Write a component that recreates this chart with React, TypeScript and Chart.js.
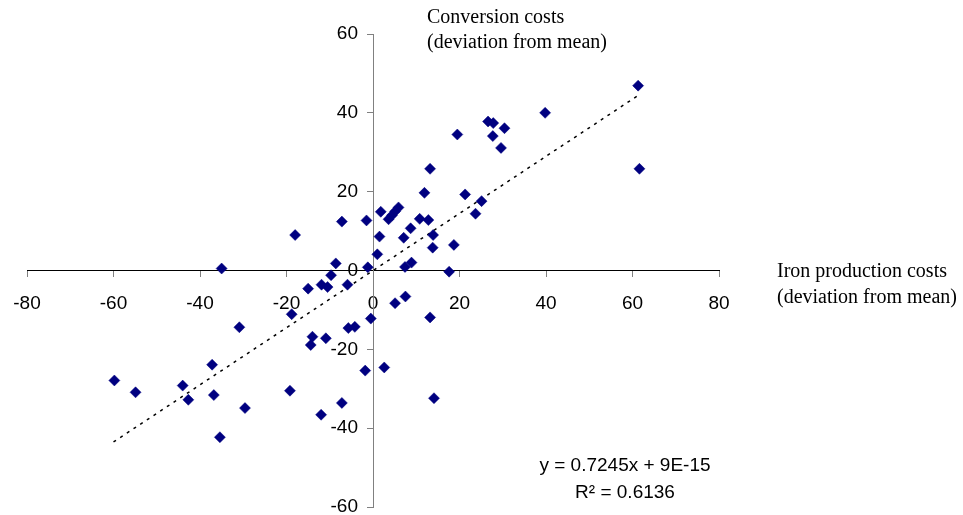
import React, { useEffect, useRef } from 'react';
import { Chart, registerables } from 'chart.js';

Chart.register(...registerables);

// Iron production costs (deviation from mean) – x values
const ironCosts = [
  -59.8, -54.9, -44.0, -42.7, -37.2, -36.8, -35.4, -35.0, -30.9, -29.6,
  -19.2, -18.8, -18.0, -15.0, -14.0, -14.4, -12.0, -11.9, -10.5, -10.9,
  -9.7, -8.6, -7.2, -7.2, -5.9, -5.7, -4.2, -1.5, -1.8, -1.2,
  -0.5, 1.0, 1.5, 1.8, 2.6, 3.6, 4.4, 5.1, 5.9, 5.1,
  7.5, 7.1, 7.4, 8.9, 8.7, 10.8, 12.8, 11.9, 13.2, 13.2,
  13.9, 13.8, 14.1, 17.6, 18.7, 19.5, 21.3, 23.7, 25.1, 26.6,
  27.8, 27.7, 29.6, 30.4, 39.8, 61.3, 61.6,
];

// Conversion costs (deviation from mean) – y values
const conversionCosts = [
  -27.9, -30.9, -29.2, -32.8, -23.9, -31.6, -42.3, 0.5, -14.4, -34.9,
  -30.5, -11.1, 9.0, -4.6, -16.8, -18.9, -36.6, -3.6, -4.2, -17.2,
  -1.2, 1.8, 12.4, -33.6, -3.6, -14.6, -14.3, 12.7, -25.4, 0.8,
  -12.2, 4.1, 8.6, 14.9, -24.6, 13.0, 14.0, 15.0, 16.0, -8.3,
  -6.6, 8.3, 0.9, 2.0, 10.7, 13.1, 12.8, 19.7, 25.8, -11.9,
  9.0, 5.8, -32.4, -0.3, 6.5, 34.5, 19.3, 14.4, 17.6, 37.8,
  37.4, 34.1, 31.1, 36.1, 40.0, 46.9, 25.8,
];

// Linear trend line end points
const trendX = [-60, 61.3];
const trendY = [-43.5, 44.4];

const xTickValues = [-80, -60, -40, -20, 0, 20, 40, 60, 80];
const yTickValues = [-60, -40, -20, 0, 20, 40, 60];

const Y_LABEL_SHIFT = 15;

const annotationPlugin = {
  id: 'textAnnotations',
  afterDraw(chart: any) {
    const ctx = chart.ctx;
    ctx.save();
    ctx.fillStyle = '#000';
    ctx.textBaseline = 'middle';
    ctx.textAlign = 'left';
    ctx.font = '20px "Liberation Serif"';
    ctx.fillText('Conversion costs', 427, 18);
    ctx.fillText('(deviation from mean)', 427, 43);
    ctx.fillText('Iron production costs', 777, 272);
    ctx.fillText('(deviation from mean)', 777, 298);
    ctx.font = '19px "Liberation Sans"';
    ctx.textAlign = 'center';
    ctx.fillText('y = 0.7245x + 9E-15', 625, 466);
    ctx.fillText('R\u00B2 = 0.6136', 625, 493);
    ctx.restore();
  },
};

// Moves the centred y-axis tick labels to the left of the axis line
const yLabelOffsetPlugin = {
  id: 'yLabelOffset',
  beforeDraw(chart: any) {
    const scale = chart.scales.y;
    if (!scale) return;
    const items = scale.getLabelItems(chart.chartArea);
    if (items && !scale.__shifted) {
      items.forEach((it: any) => {
        if (it.options && it.options.translation) it.options.translation[0] -= Y_LABEL_SHIFT;
      });
      scale.__shifted = true;
    }
  },
  afterUpdate(chart: any) {
    if (chart.scales.y) chart.scales.y.__shifted = false;
  },
};

const bgPlugin = {
  id: 'whiteBg',
  beforeDraw(chart: any) {
    const ctx = chart.ctx;
    ctx.save();
    ctx.fillStyle = '#fff';
    ctx.fillRect(0, 0, chart.width, chart.height);
    ctx.restore();
  },
};

export default function App() {
  const ref = useRef<HTMLCanvasElement | null>(null);

  useEffect(() => {
    if (!ref.current) return;
    const points = ironCosts.map((x, i) => ({ x, y: conversionCosts[i] }));
    const trend = trendX.map((x, i) => ({ x, y: trendY[i] }));
    const chart = new Chart(ref.current, {
      type: 'scatter',
      data: {
        datasets: [
          {
            label: 'Costs',
            data: points,
            pointStyle: 'rectRot',
            pointRadius: 5.5,
            pointHoverRadius: 5.5,
            backgroundColor: '#000080',
            borderColor: '#000080',
            borderWidth: 0.5,
            order: 1,
          },
          {
            label: 'Trend',
            data: trend,
            showLine: true,
            pointRadius: 0,
            borderColor: '#000',
            borderWidth: 1.5,
            borderDash: [3, 5],
            order: 2,
          } as any,
        ],
      },
      options: {
        animation: false,
        responsive: false,
        devicePixelRatio: 1,
        layout: { padding: { left: 27, right: 244, top: 34, bottom: 8 } },
        plugins: {
          legend: { display: false },
          tooltip: { enabled: false },
        },
        scales: {
          x: {
            type: 'linear',
            position: { y: 0 } as any,
            min: -80,
            max: 80,
            afterBuildTicks: (scale: any) => {
              scale.ticks = xTickValues.map((v) => ({ value: v }));
            },
            afterFit: (scale: any) => {
              scale.height = 0;
              scale.paddingLeft = 0;
              scale.paddingRight = 0;
              scale.paddingTop = 0;
              scale.paddingBottom = 0;
            },
            ticks: {
              font: { family: '"Liberation Sans"', size: 19 },
              color: '#000',
              padding: 16,
              maxRotation: 0,
              autoSkip: false,
            },
            grid: {
              drawOnChartArea: false,
              drawTicks: true,
              tickLength: 6,
              color: '#808080',
            },
            border: { color: '#000', width: 1 },
          },
          y: {
            type: 'linear',
            position: { x: 0 } as any,
            min: -60,
            max: 60,
            afterBuildTicks: (scale: any) => {
              scale.ticks = yTickValues.map((v) => ({ value: v }));
            },
            afterFit: (scale: any) => {
              scale.width = 0;
              scale.paddingLeft = 0;
              scale.paddingRight = 0;
              scale.paddingTop = 0;
              scale.paddingBottom = 0;
            },
            ticks: {
              font: { family: '"Liberation Sans"', size: 19 },
              color: '#000',
              padding: 9,
              autoSkip: false,
            },
            grid: {
              drawOnChartArea: false,
              drawTicks: true,
              tickLength: 6,
              color: '#808080',
            },
            border: { color: '#808080', width: 1 },
          },
        },
      },
      plugins: [bgPlugin, yLabelOffsetPlugin, annotationPlugin],
    });
    return () => chart.destroy();
  }, []);

  return (
    <div style={{ position: 'fixed', left: 0, top: 0, width: 963, height: 515, background: '#fff' }}>
      <canvas ref={ref} width={963} height={515} style={{ width: 963, height: 515, display: 'block' }} />
    </div>
  );
}
